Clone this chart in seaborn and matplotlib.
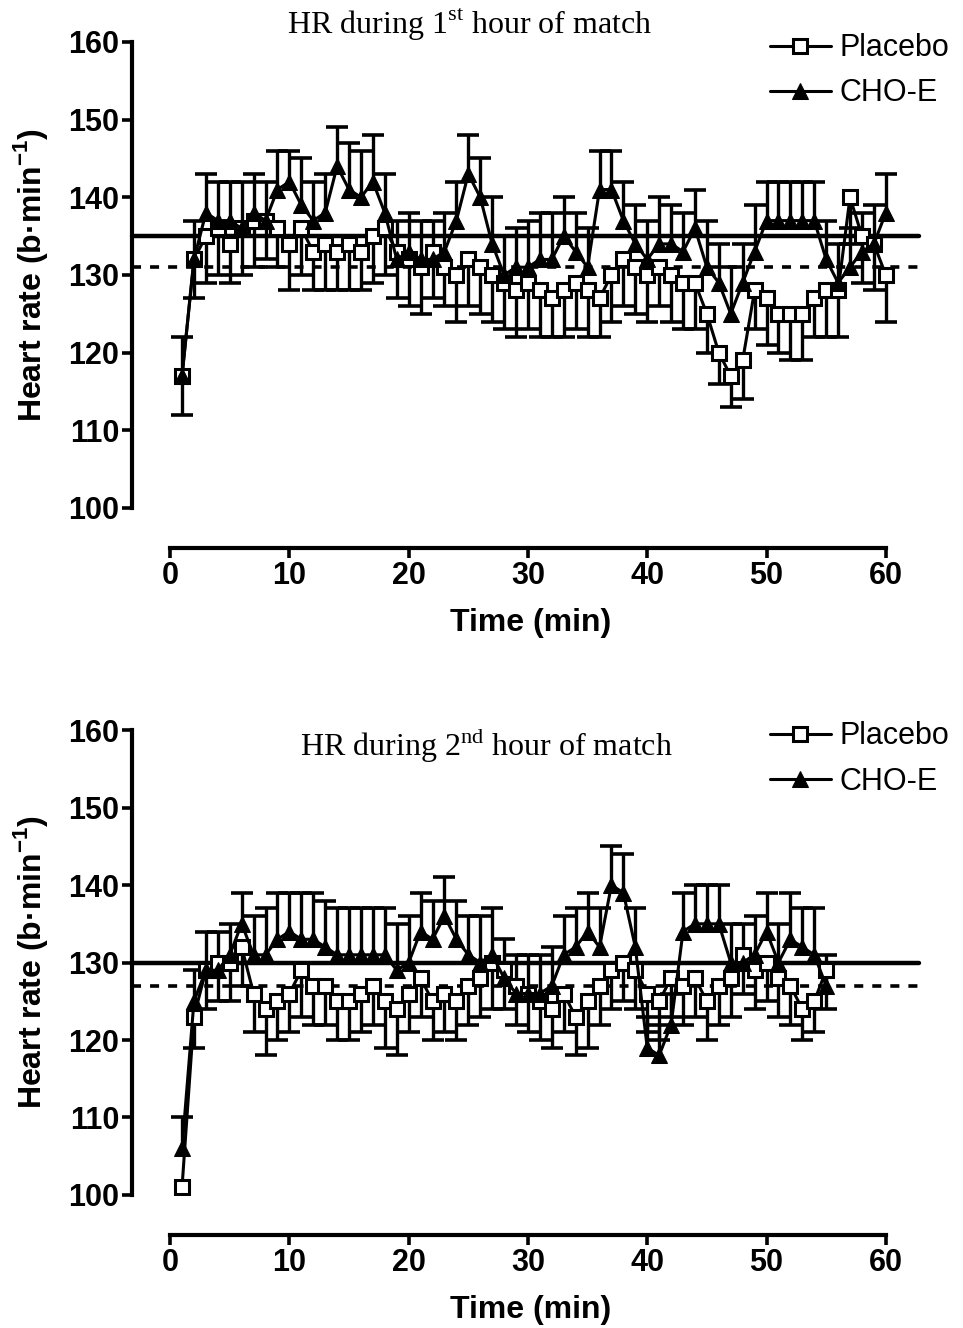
import numpy as np
import pandas as pd
import matplotlib
matplotlib.use('Agg')
import matplotlib.pyplot as plt
import seaborn as sns

# heart rate per minute
time1 = list(range(1, 61))
placebo1 = [117, 132, 135, 136, 134, 136, 137, 137, 136, 134,
            136, 133, 134, 133, 134, 133, 135, 136, 133, 132,
            131, 133, 131, 130, 132, 131, 130, 129, 128, 129,
            128, 127, 128, 129, 128, 127, 130, 132, 131, 130,
            131, 130, 129, 129, 125, 120, 117, 119, 128, 127,
            125, 125, 125, 127, 128, 128, 140, 135, 134, 130]
placebo1_err = [5, 5, 6, 6, 5, 6, 6, 5, 5, 6,
                6, 5, 6, 5, 6, 5, 6, 6, 6, 6,
                6, 6, 5, 6, 6, 6, 6, 6, 6, 6,
                6, 5, 6, 6, 6, 5, 6, 6, 6, 6,
                5, 6, 6, 6, 5, 4, 4, 5, 5, 6,
                5, 6, 6, 5, 6, 6, 6, 6, 6, 6]
cho1 = [117, 132, 138, 137, 137, 136, 138, 137, 141, 142,
        139, 137, 138, 144, 141, 140, 142, 138, 132, 133,
        132, 132, 133, 137, 143, 140, 134, 130, 131, 131,
        132, 132, 135, 133, 131, 141, 141, 137, 134, 132,
        134, 134, 133, 136, 131, 129, 125, 129, 133, 137,
        137, 137, 137, 137, 132, 129, 131, 133, 134, 138]
cho1_err = [5, 5, 5, 5, 5, 6, 5, 5, 5, 4,
            6, 5, 5, 5, 6, 6, 6, 5, 5, 5,
            5, 5, 5, 5, 5, 5, 6, 5, 5, 6,
            6, 6, 5, 5, 5, 5, 5, 5, 5, 5,
            6, 5, 5, 5, 6, 5, 6, 5, 6, 5,
            5, 5, 5, 5, 5, 5, 5, 5, 5, 5]

time2 = list(range(1, 56))
placebo2 = [101, 123, 129, 130, 130, 132, 126, 124, 125, 126,
            129, 127, 127, 125, 125, 126, 127, 125, 124, 126,
            128, 125, 126, 125, 127, 128, 130, 129, 127, 126,
            125, 124, 126, 123, 125, 127, 129, 130, 129, 126,
            125, 128, 127, 128, 125, 127, 128, 131, 129, 130,
            128, 127, 124, 125, 129]
placebo2_err = [4, 4, 5, 5, 5, 5, 5, 6, 5, 5,
                6, 5, 5, 5, 5, 5, 5, 6, 6, 5,
                5, 5, 5, 5, 5, 5, 6, 5, 5, 5,
                5, 5, 5, 5, 6, 5, 5, 5, 5, 5,
                5, 5, 5, 5, 5, 5, 5, 5, 5, 5,
                5, 5, 4, 4, 5]
cho2 = [106, 125, 129, 129, 131, 135, 131, 131, 133, 134,
        133, 133, 132, 131, 131, 131, 131, 131, 129, 130,
        134, 133, 136, 133, 131, 130, 131, 128, 126, 126,
        126, 127, 131, 132, 134, 132, 140, 139, 132, 119,
        118, 122, 134, 135, 135, 135, 130, 130, 131, 134,
        130, 133, 132, 131, 127]
cho2_err = [4, 4, 5, 5, 4, 4, 5, 6, 6, 5,
            6, 6, 6, 6, 6, 6, 6, 6, 6, 6,
            5, 5, 5, 5, 5, 6, 6, 5, 5, 5,
            5, 5, 5, 5, 5, 5, 5, 5, 5, 4,
            4, 4, 5, 5, 5, 5, 5, 5, 5, 5,
            5, 6, 5, 6, 4]

mean_cho = [135, 130]
mean_placebo = [131, 127]
titles = [r'HR during 1$^{\mathrm{st}}$ hour of match',
          r'HR during 2$^{\mathrm{nd}}$ hour of match']

sns.set_style('ticks')
plt.rcParams['font.family'] = ['Liberation Sans', 'DejaVu Sans']
plt.rcParams['mathtext.fontset'] = 'custom'
plt.rcParams['mathtext.rm'] = 'Liberation Serif'
plt.rcParams['mathtext.bf'] = 'Liberation Sans:bold'
for key in ['text.color', 'axes.labelcolor', 'xtick.color', 'ytick.color', 'axes.edgecolor']:
    plt.rcParams[key] = 'black'

fig = plt.figure(figsize=(9.63, 13.28), dpi=100)
ax1 = fig.add_axes([0.137, 0.6175, 0.820, 0.3509])
ax2 = fig.add_axes([0.137, 0.1002, 0.820, 0.3500])

panels = [
    (ax1, time1, placebo1, placebo1_err, cho1, cho1_err, titles[0], (0.428, 1.036)),
    (ax2, time2, placebo2, placebo2_err, cho2, cho2_err, titles[1], (0.449, 0.968)),
]

for i, (ax, t, pla, pla_e, cho, cho_e, title, tpos) in enumerate(panels):
    df = pd.DataFrame({'Time': t, 'Placebo': pla, 'CHO-E': cho})
    t = np.array(t)
    pla = np.array(pla); pla_e = np.array(pla_e)
    cho = np.array(cho); cho_e = np.array(cho_e)

    # overall means
    ax.plot([-3.2, 62.8], [mean_cho[i]] * 2, color='k', lw=3.2, clip_on=False, zorder=2)
    ax.plot([-3.2, 62.8], [mean_placebo[i]] * 2, color='k', lw=2.6, ls=(0, (2.5, 2.5)),
            clip_on=False, zorder=2)

    # one-sided SEM bars: placebo down, CHO-E up
    ax.vlines(t, pla - pla_e, pla, color='k', lw=2.4, zorder=3)
    ax.plot(t, pla - pla_e, ls='none', marker='_', ms=16, mew=2.6, color='k', zorder=3)
    ax.vlines(t, cho, cho + cho_e, color='k', lw=2.4, zorder=3)
    ax.plot(t, cho + cho_e, ls='none', marker='_', ms=16, mew=2.6, color='k', zorder=3)

    sns.lineplot(data=df, x='Time', y='Placebo', ax=ax, color='k', lw=2.2,
                 marker='s', ms=10, markerfacecolor='white', markeredgecolor='k',
                 markeredgewidth=2.2, label='Placebo', zorder=4)
    sns.lineplot(data=df, x='Time', y='CHO-E', ax=ax, color='k', lw=2.2,
                 marker='^', ms=12, markerfacecolor='k', markeredgecolor='k',
                 label='CHO-E', zorder=5)

    ax.set_xlim(-3.2, 63)
    ax.set_ylim(100, 160)
    ax.set_xticks(range(0, 61, 10))
    ax.set_yticks(range(100, 161, 10))
    sns.despine(ax=ax)
    ax.spines['left'].set_bounds(100, 160)
    ax.spines['bottom'].set_bounds(0, 60)
    ax.spines['bottom'].set_position(('outward', 29))
    for s in ['left', 'bottom']:
        ax.spines[s].set_linewidth(3)
    ax.tick_params(axis='both', length=7, width=2.6, pad=2, labelsize=22)
    for lab in ax.get_xticklabels() + ax.get_yticklabels():
        lab.set_fontweight('bold')

    ax.set_xlabel('Time (min)', fontsize=23, fontweight='bold')
    ax.set_ylabel(r'Heart rate (b·min$^{\mathbf{-1}}$)', fontsize=23, fontweight='bold')
    ax.xaxis.set_label_coords(0.505, -0.215)
    ax.yaxis.set_label_coords(-0.104, 0.5)

    ax.text(tpos[0], tpos[1], title, transform=ax.transAxes, ha='center', va='center',
            fontsize=23, family='Liberation Serif')

    ax.legend(loc='upper left', bbox_to_anchor=(0.792, 1.045), frameon=False,
              fontsize=22, handlelength=2.0, handletextpad=0.3, labelspacing=0.5,
              borderaxespad=0)

fig.savefig('out.png', dpi=100)
